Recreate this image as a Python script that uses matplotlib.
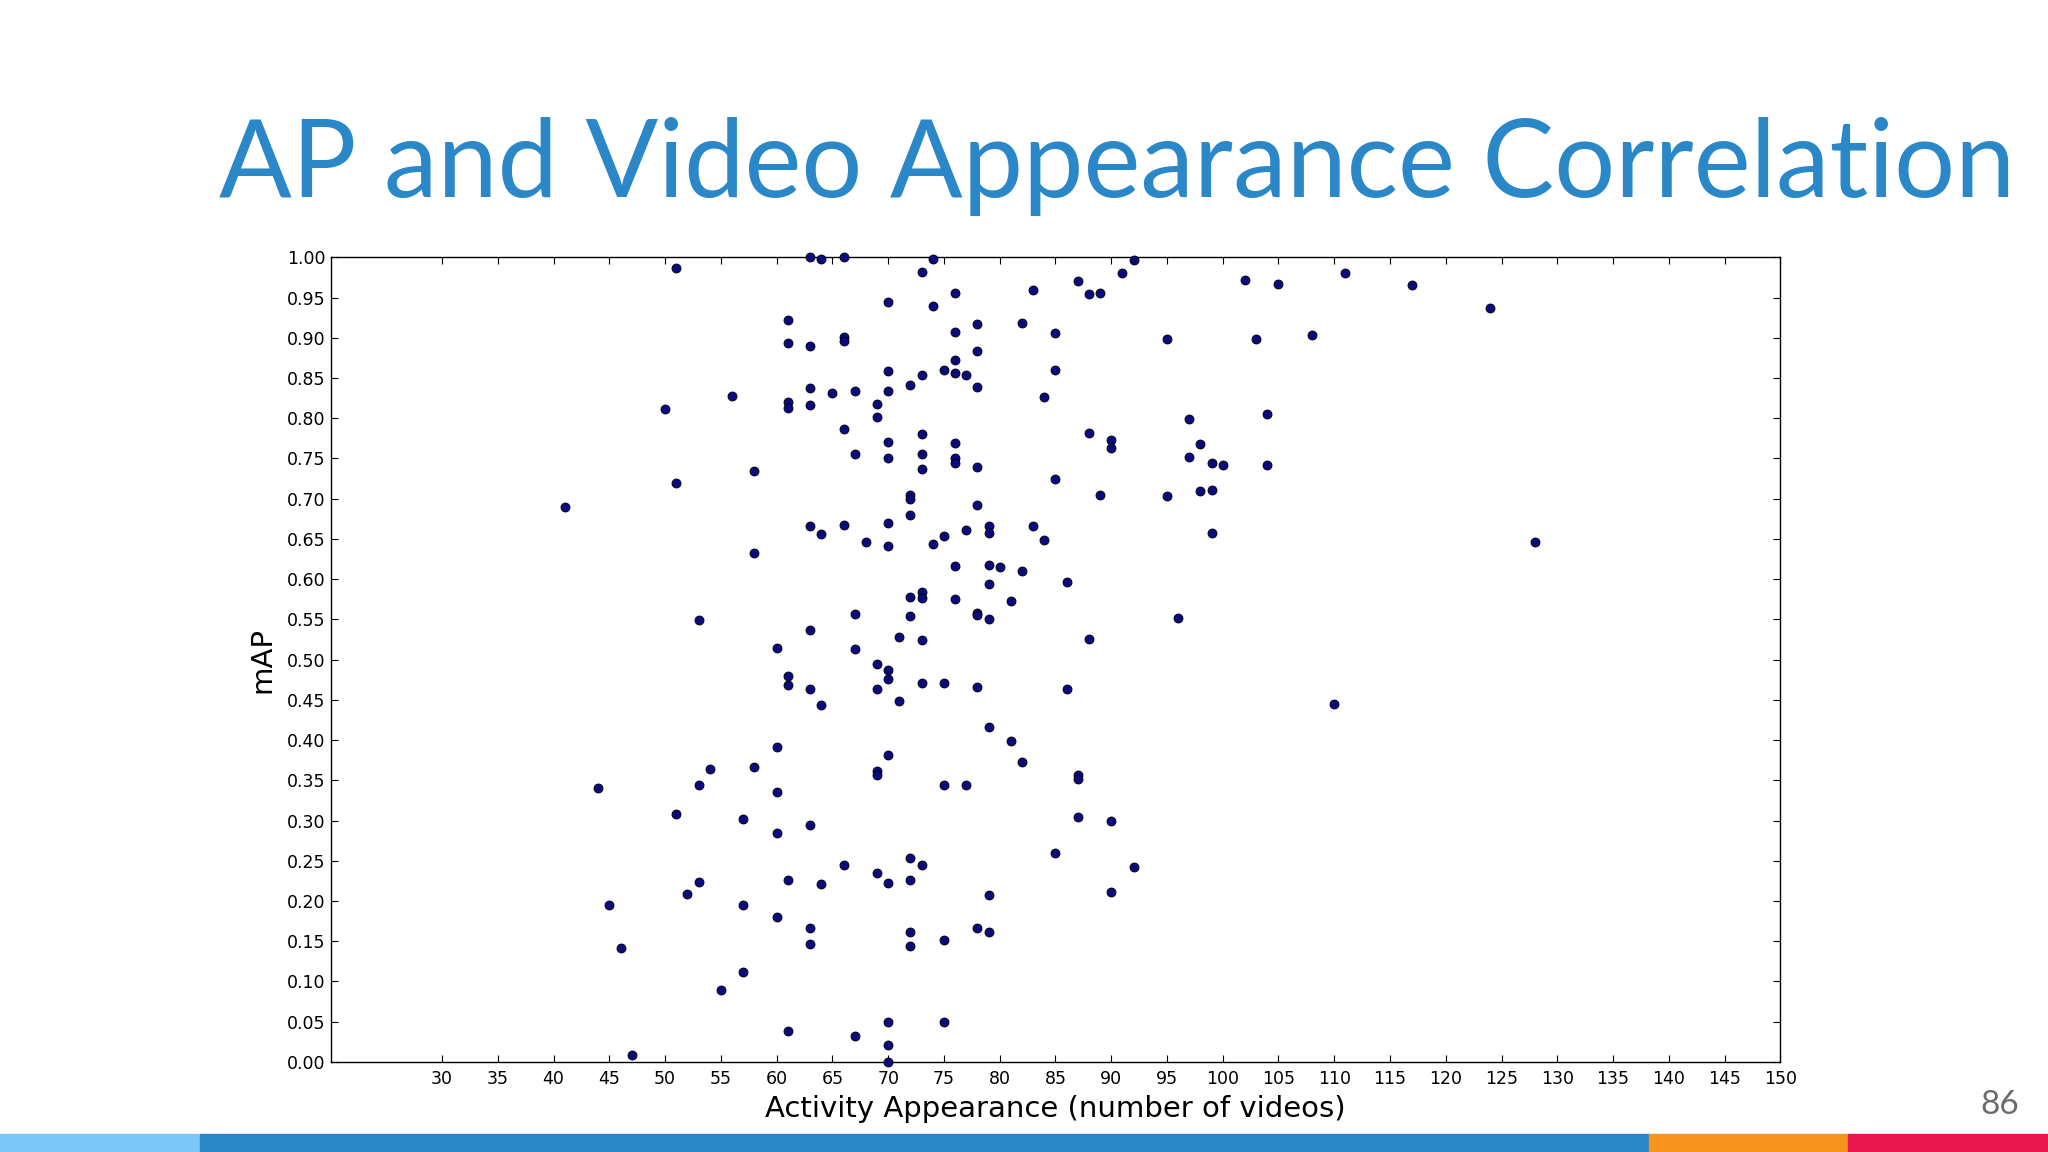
import numpy as np
import matplotlib.pyplot as plt
from matplotlib.patches import Rectangle

# activity appearance (number of videos) and mAP per activity
videos = [41, 44, 45, 46, 47, 50, 51, 51, 51, 52,
          53, 53, 53, 54, 55, 56, 57, 57, 57, 58,
          58, 58, 60, 60, 60, 60, 60, 61, 61, 61,
          61, 61, 61, 61, 61, 63, 64, 66, 63, 63,
          63, 63, 63, 63, 63, 63, 63, 64, 64, 64,
          65, 66, 66, 66, 66, 66, 67, 67, 67, 67,
          67, 68, 69, 69, 69, 69, 69, 69, 69, 70,
          70, 70, 70, 70, 70, 70, 70, 70, 70, 70,
          70, 70, 70, 71, 71, 72, 72, 72, 72, 72,
          72, 72, 72, 72, 72, 73, 73, 73, 73, 73,
          73, 73, 73, 73, 73, 74, 74, 74, 75, 75,
          75, 75, 75, 75, 76, 76, 76, 76, 76, 76,
          76, 76, 76, 77, 77, 77, 78, 78, 78, 78,
          78, 78, 78, 78, 78, 79, 79, 79, 79, 79,
          79, 79, 79, 80, 81, 81, 82, 82, 82, 83,
          83, 84, 84, 85, 85, 85, 85, 86, 86, 87,
          87, 87, 87, 88, 88, 88, 89, 89, 90, 90,
          90, 90, 91, 92, 92, 95, 95, 96, 97, 97,
          98, 98, 99, 99, 99, 100, 102, 103, 104, 104,
          105, 108, 110, 111, 117, 124, 128]
mean_ap = [0.690, 0.341, 0.195, 0.141, 0.008, 0.812, 0.987, 0.719, 0.308, 0.209,
           0.549, 0.344, 0.224, 0.364, 0.089, 0.828, 0.302, 0.195, 0.112, 0.734,
           0.633, 0.367, 0.515, 0.391, 0.336, 0.284, 0.180, 0.922, 0.894, 0.820,
           0.813, 0.480, 0.468, 0.226, 0.039, 1.000, 0.998, 1.000, 0.890, 0.838,
           0.817, 0.666, 0.537, 0.463, 0.294, 0.167, 0.146, 0.656, 0.443, 0.221,
           0.831, 0.901, 0.896, 0.787, 0.667, 0.245, 0.834, 0.756, 0.557, 0.513,
           0.032, 0.646, 0.818, 0.802, 0.494, 0.463, 0.362, 0.357, 0.235, 0.945,
           0.859, 0.834, 0.771, 0.750, 0.670, 0.641, 0.487, 0.476, 0.381, 0.222,
           0.050, 0.021, 0.000, 0.528, 0.448, 0.841, 0.705, 0.700, 0.680, 0.578,
           0.554, 0.253, 0.226, 0.161, 0.144, 0.982, 0.854, 0.781, 0.755, 0.737,
           0.584, 0.576, 0.524, 0.471, 0.245, 0.998, 0.940, 0.644, 0.860, 0.654,
           0.471, 0.344, 0.151, 0.050, 0.956, 0.907, 0.872, 0.856, 0.769, 0.750,
           0.745, 0.617, 0.575, 0.854, 0.661, 0.344, 0.917, 0.883, 0.839, 0.740,
           0.692, 0.558, 0.555, 0.466, 0.166, 0.666, 0.657, 0.618, 0.594, 0.550,
           0.416, 0.208, 0.161, 0.615, 0.573, 0.399, 0.919, 0.610, 0.373, 0.959,
           0.666, 0.826, 0.649, 0.906, 0.860, 0.724, 0.260, 0.596, 0.463, 0.971,
           0.356, 0.352, 0.304, 0.955, 0.782, 0.526, 0.956, 0.705, 0.773, 0.763,
           0.300, 0.211, 0.981, 0.997, 0.242, 0.899, 0.703, 0.552, 0.799, 0.752,
           0.768, 0.709, 0.745, 0.711, 0.657, 0.742, 0.972, 0.898, 0.805, 0.742,
           0.967, 0.904, 0.445, 0.981, 0.966, 0.937, 0.646]

x_ticks = list(range(30, 151, 5))
y_ticks = [i * 0.05 for i in range(21)]

bar_colors = ['#7cc8f8', '#2a87c8', '#f7941d', '#e8174f']
bar_edges = [0.0, 0.0976, 0.805, 0.9024, 1.0]

fig = plt.figure(figsize=(20.48, 11.52), dpi=100)
fig.patch.set_facecolor('white')

fig.text(0.107, 0.829, 'AP and Video Appearance Correlation', fontsize=77.5,
         color='#2a87c8', family='Lato', ha='left', va='baseline')
fig.text(0.986, 0.028, '86', fontsize=24, color='#6b6b6b', family='Lato',
         ha='right', va='bottom')

for i, c in enumerate(bar_colors):
    fig.patches.append(Rectangle((bar_edges[i], 0), bar_edges[i + 1] - bar_edges[i], 0.0155,
                                 transform=fig.transFigure, color=c, zorder=5))

ax = fig.add_axes([0.1614, 0.0782, 0.7079, 0.6984])
ax.scatter(videos, mean_ap, s=42, c='#0a0a80', edgecolors='black', linewidths=0.6,
           zorder=3, clip_on=False)
ax.set_xlim(20, 150)
ax.set_ylim(0, 1)
ax.set_xticks(x_ticks)
ax.set_yticks(y_ticks)
ax.set_yticklabels([f'{v:.2f}' for v in y_ticks])
ax.tick_params(direction='in', top=True, right=True, length=5, labelsize=12.5)
ax.tick_params(axis='x', pad=6)
ax.set_xlabel('Activity Appearance (number of videos)', fontsize=21, labelpad=5)
ax.set_ylabel('mAP', fontsize=21, labelpad=8)
for s in ax.spines.values():
    s.set_linewidth(1.0)

fig.savefig('out.png', dpi=100)
